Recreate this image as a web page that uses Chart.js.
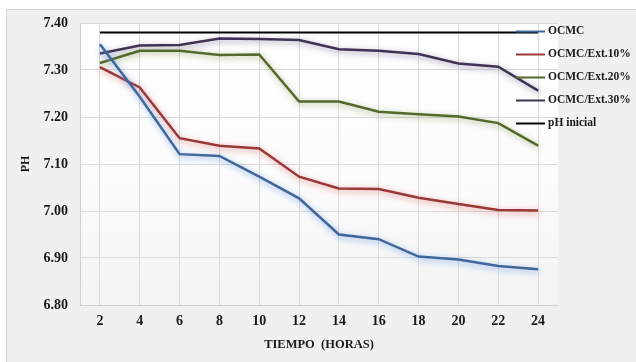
<!DOCTYPE html>
<html>
<head>
<meta charset="utf-8">
<script src="https://cdn.jsdelivr.net/npm/chart.js@4"></script>
<style>
  html, body { margin: 0; padding: 0; background: #fff; }
  #wrap { width: 636px; height: 362px; position: relative; }
</style>
</head>
<body>
<div id="wrap"><canvas id="ph-graph"></canvas></div>
<script>
const horas = ['2', '4', '6', '8', '10', '12', '14', '16', '18', '20', '22', '24'];
const ocmc = [7.355, 7.243, 7.121, 7.117, 7.073, 7.027, 6.950, 6.940, 6.903, 6.897, 6.883, 6.876];
const ext10 = [7.306, 7.263, 7.155, 7.139, 7.133, 7.073, 7.048, 7.047, 7.028, 7.015, 7.002, 7.001];
const ext20 = [7.315, 7.341, 7.341, 7.332, 7.333, 7.233, 7.233, 7.211, 7.206, 7.201, 7.187, 7.139];
const ext30 = [7.335, 7.352, 7.353, 7.367, 7.366, 7.364, 7.344, 7.341, 7.334, 7.314, 7.307, 7.256];
const phInicial = [7.38, 7.38, 7.38, 7.38, 7.38, 7.38, 7.38, 7.38, 7.38, 7.38, 7.38, 7.38];

const serif = "'Liberation Serif', 'Times New Roman', serif";

// frame + plot area background
const fondo = {
    id: 'fondo',
    beforeDraw(chart) {
        const ctx = chart.ctx, a = chart.chartArea;
        ctx.save();
        ctx.fillStyle = '#f0f0f0';
        ctx.fillRect(6, 9, chart.width - 6, chart.height - 9);
        ctx.strokeStyle = '#d4d4d4';
        ctx.lineWidth = 1;
        ctx.beginPath();
        ctx.moveTo(6.5, chart.height);
        ctx.lineTo(6.5, 9.5);
        ctx.lineTo(chart.width, 9.5);
        ctx.stroke();
        const g = ctx.createLinearGradient(0, a.top, 0, a.bottom);
        g.addColorStop(0, '#ffffff');
        g.addColorStop(0.6, '#fbfbfb');
        g.addColorStop(1, '#f3f3f3');
        ctx.fillStyle = g;
        ctx.fillRect(a.left, a.top, a.right - a.left, a.bottom - a.top);
        ctx.restore();
    }
};

// soft glow under each series line
const brillo = {
    id: 'brillo',
    beforeDatasetDraw(chart, args) {
        const ds = chart.data.datasets[args.index];
        chart.ctx.save();
        if (ds.glow) {
            chart.ctx.shadowColor = ds.glow;
            chart.ctx.shadowBlur = 6;
            chart.ctx.shadowOffsetX = 1;
            chart.ctx.shadowOffsetY = 2;
        }
    },
    afterDatasetDraw(chart) {
        chart.ctx.restore();
    }
};

// legend drawn over the right side of the plot
const leyenda = {
    id: 'leyenda',
    afterDraw(chart) {
        const ctx = chart.ctx;
        ctx.save();
        ctx.font = 'bold 11.5px ' + serif;
        ctx.textBaseline = 'middle';
        ctx.textAlign = 'left';
        chart.data.datasets.forEach((ds, i) => {
            const y = 31.5 + i * 23;
            ctx.strokeStyle = ds.borderColor;
            ctx.lineWidth = 2;
            ctx.beginPath();
            ctx.moveTo(516, y);
            ctx.lineTo(545, y);
            ctx.stroke();
            ctx.fillStyle = '#1a1a1a';
            ctx.fillText(ds.label, 548, y);
        });
        ctx.restore();
    }
};

new Chart(document.getElementById('ph-graph'), {
    type: 'line',
    data: {
        labels: horas,
        datasets: [
            { label: 'OCMC', data: ocmc, borderColor: '#40669a', glow: 'rgba(90,150,230,0.75)' },
            { label: 'OCMC/Ext.10%', data: ext10, borderColor: '#9a3836', glow: 'rgba(220,100,100,0.7)' },
            { label: 'OCMC/Ext.20%', data: ext20, borderColor: '#546a2a', glow: 'rgba(110,140,60,0.6)' },
            { label: 'OCMC/Ext.30%', data: ext30, borderColor: '#3f3455', glow: 'rgba(90,80,120,0.6)' },
            { label: 'pH inicial', data: phInicial, borderColor: '#000000', borderWidth: 2 }
        ].map(d => Object.assign({ borderWidth: 2.5, pointRadius: 0, tension: 0, fill: false }, d))
    },
    options: {
        responsive: true,
        maintainAspectRatio: false,
        animation: false,
        layout: { padding: { top: 23, left: 0, right: 78, bottom: 0 } },
        plugins: { legend: { display: false }, tooltip: { enabled: false } },
        scales: {
            x: {
                offset: true,
                grid: { offset: false, color: '#d9d9d9', drawTicks: false },
                border: { color: '#cfcfcf' },
                ticks: { padding: 8, color: '#1a1a1a', font: { family: serif, size: 14, weight: 'bold' } },
                title: { display: true, text: 'TIEMPO  (HORAS)', color: '#1a1a1a', padding: { top: 0, bottom: 10 },
                         font: { family: serif, size: 12.5, weight: 'bold' } },
                afterFit(scale) { scale.height = 57; }
            },
            y: {
                min: 6.8,
                max: 7.4,
                ticks: { stepSize: 0.1, padding: 12, color: '#1a1a1a',
                         font: { family: serif, size: 14, weight: 'bold' },
                         callback: v => v.toFixed(2) },
                grid: { color: '#d9d9d9', drawTicks: false },
                border: { color: '#cfcfcf' },
                title: { display: true, text: 'PH', color: '#1a1a1a', padding: { top: 19, bottom: 0 },
                         font: { family: serif, size: 12, weight: 'bold' } },
                afterFit(scale) { scale.width = 80; }
            }
        }
    },
    plugins: [fondo, brillo, leyenda]
});
</script>
</body>
</html>
